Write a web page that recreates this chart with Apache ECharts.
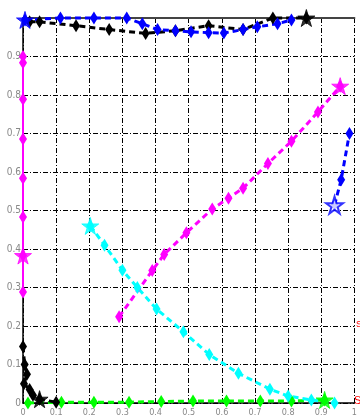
<!DOCTYPE html>
<html><head><meta charset="utf-8">
<script src="https://cdn.jsdelivr.net/npm/echarts@6/dist/echarts.min.js"></script>
<style>html,body{margin:0;padding:0;background:#fff}#c{width:360px;height:417px}</style>
</head><body><div id="c"></div>
<script>
// tick labels
var xTicks = [0,0.1,0.2,0.3,0.4,0.5,0.6,0.7,0.8,0.9,1];
var yTicks = [0,0.1,0.2,0.3,0.4,0.5,0.6,0.7,0.8,0.9,1];
// series values [x, y]
var blueTop = [[0.006,0.995],[0.113,1.0],[0.214,1.0],[0.313,1.0],[0.36,0.985],[0.406,0.97],[0.46,0.967],[0.507,0.964],[0.56,0.962],[0.606,0.961],[0.664,0.97],[0.707,0.977],[0.768,0.985],[0.81,0.995]];
var blueTopStar = [[0.006,0.995]];
var blackTop = [[0.02,0.99],[0.05,0.99],[0.16,0.98],[0.26,0.97],[0.37,0.96],[0.46,0.967],[0.56,0.98],[0.664,0.97],[0.754,1.0],[0.855,1.0]];
var blackTopStar = [[0.855,1.0]];
var blueRight = [[0.94,0.514],[0.96,0.58],[0.985,0.70]];
var blueRightStar = [[0.94,0.514]];
var magentaLeft = [[0,0.9],[0,0.884],[0,0.789],[0,0.686],[0,0.584],[0,0.483],[0,0.383],[0,0.288]];
var magentaLeftStar = [[0,0.383]];
var magentaMid = [[0.29,0.224],[0.39,0.344],[0.426,0.386],[0.493,0.442],[0.571,0.504],[0.62,0.532],[0.664,0.558],[0.739,0.622],[0.81,0.68],[0.89,0.756],[0.957,0.823]];
var magentaMidStar = [[0.957,0.823]];
var cyanCurve = [[0.203,0.46],[0.246,0.41],[0.3,0.345],[0.345,0.30],[0.403,0.244],[0.484,0.185],[0.562,0.126],[0.65,0.077],[0.745,0.036],[0.80,0.018],[0.87,0.008],[0.94,0.0]];
var cyanStar = [[0.203,0.46]];
var greenCurve = [[0.015,0.0],[0.116,0.002],[0.214,0.002],[0.32,0.002],[0.417,0.004],[0.513,0.005],[0.614,0.005],[0.716,0.005],[0.81,0.005],[0.91,0.008]];
var greenStar = [[0.91,0.008]];
var blackLow = [[0,0.147],[0.005,0.1],[0.012,0.075],[0.003,0.05],[0.02,0.035],[0.03,0.02],[0.05,0.01],[0.1,0.002]];
var blackLowStar = [[0.05,0.01]];
var redLabels = ['S','S'];

var STAR = 'path://M50,0 L61,35 L98,35 L68,57 L79,91 L50,70 L21,91 L32,57 L2,35 L39,35 Z';
function curve(data, color, dashed, width){
  return {type:'line', data:data, clip:false, symbol:'diamond', symbolSize:[8,13],
    itemStyle:{color:color}, lineStyle:{color:color, width:width||3, type: dashed?[6,4]:'solid'}, z:3};
}
function star(data, color, hollow){
  return {type:'scatter', data:data, clip:false, symbol:STAR, symbolSize:17,
    itemStyle:{color: hollow?'#fff':color, borderColor:color, borderWidth: hollow?2:1}, z:4};
}
var chart = echarts.init(document.getElementById('c'));
chart.setOption({
  animation:false,
  grid:{left:23, top:18, right:-8, bottom:10},
  xAxis:[{type:'value', min:0, max:1, interval:0.1, position:'bottom',
    axisLine:{show:true, onZero:false, lineStyle:{color:'#000', width:1.5}},
    axisTick:{show:false},
    axisLabel:{margin:5, fontSize:9, color:'#888', fontFamily:'Liberation Sans Narrow, DejaVu Sans Condensed, sans-serif',
      formatter:function(v){ var i = xTicks.indexOf(Math.round(v*10)/10); return i>=0? String(xTicks[i]) : ''; }},
    splitLine:{show:true, lineStyle:{color:'#000', width:1, type:[5,2,1,2]}}},
   {type:'value', min:0, max:1, position:'top',
    axisLine:{show:true, onZero:false, lineStyle:{color:'#444', width:2}},
    axisTick:{show:false}, axisLabel:{show:false}, splitLine:{show:false}}],
  yAxis:{type:'value', min:0, max:1, interval:0.1,
    axisLine:{show:true, onZero:false, lineStyle:{color:'#000', width:1.5}},
    axisTick:{show:false},
    axisLabel:{margin:2, fontSize:10, color:'#888', showMaxLabel:false, fontFamily:'Liberation Sans Narrow, DejaVu Sans Condensed, sans-serif',
      formatter:function(v){ var i = yTicks.indexOf(Math.round(v*10)/10); return i>=0? String(yTicks[i]) : ''; }},
    splitLine:{show:true, lineStyle:{color:'#000', width:1, type:[5,2,1,2]}}},
  series:[
    curve(greenCurve,'#00ff00',true), star(greenStar,'#00ff00'),
    curve(cyanCurve,'#00ffff',true), star(cyanStar,'#00ffff'),
    curve(magentaMid,'#ff00ff',true), star(magentaMidStar,'#ff00ff'),
    curve(magentaLeft,'#ff00ff',false,2), star(magentaLeftStar,'#ff00ff'),
    curve(blackLow,'#000',true), star(blackLowStar,'#000'),
    curve(blackTop,'#000',true), star(blackTopStar,'#000'),
    curve(blueTop,'#0000ff',true), star(blueTopStar,'#0000ff'),
    curve(blueRight,'#0000ff',true), star(blueRightStar,'#0000ff',true)
  ],
  graphic:[
    {type:'text', left:354, top:395, style:{text:redLabels[0], fill:'#ff0000', fontSize:11, fontFamily:'Liberation Sans'}},
    {type:'text', left:356, top:320, style:{text:redLabels[1], fill:'#ff0000', fontSize:9, fontFamily:'Liberation Sans'}}
  ]
});
</script></body></html>
